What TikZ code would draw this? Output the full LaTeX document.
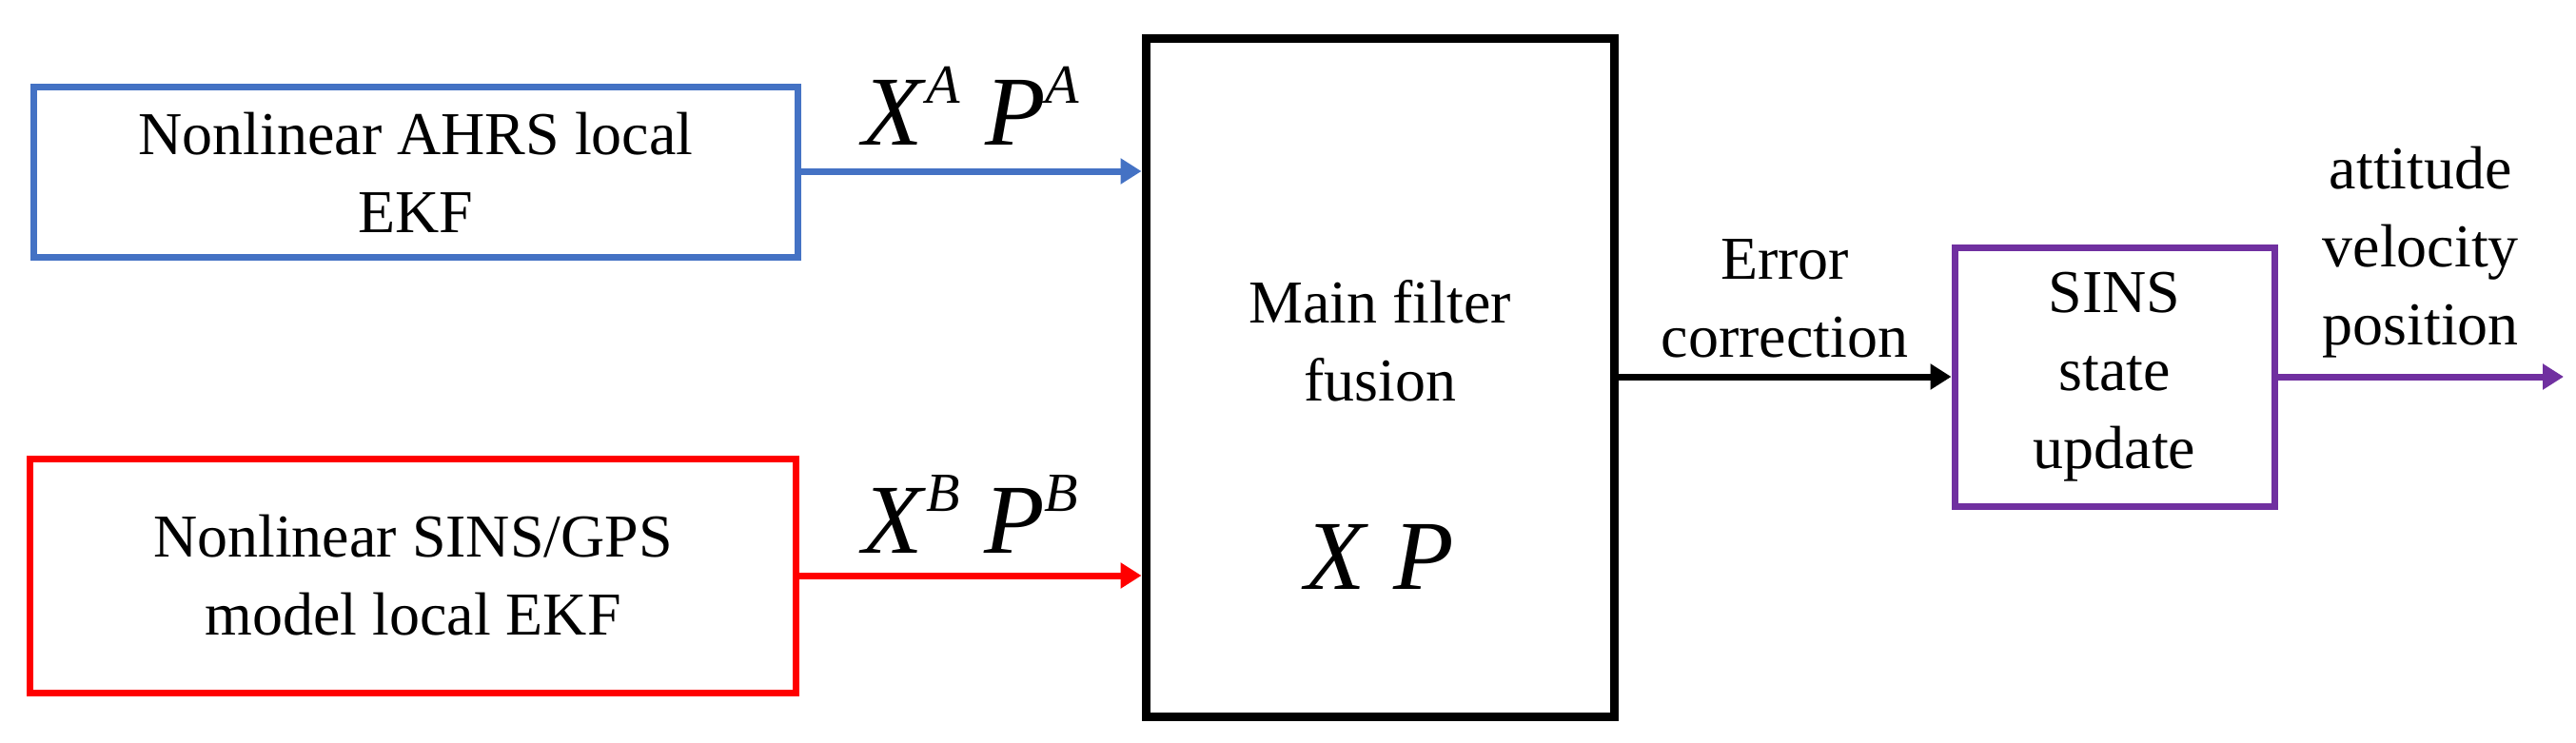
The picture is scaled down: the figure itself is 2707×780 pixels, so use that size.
\documentclass[tikz,border=0pt]{standalone}
\usepackage{fontspec}
\setmainfont{Liberation Serif}
\newfontfamily\blkfont{Liberation Serif}
\usetikzlibrary{positioning,arrows.meta}
\definecolor{ahrsblue}{RGB}{68,114,196}
\definecolor{sinsred}{RGB}{255,0,0}
\definecolor{statepurple}{RGB}{112,48,160}
\newcommand{\symb}[2]{\textit{#1}\raisebox{0.42em}{\fontsize{58}{58}\selectfont\textit{#2}}}
\tikzset{
  blk/.style={draw=#1, line width=7pt, inner sep=0pt, align=center, text=black,
    font=\blkfont\fontsize{64}{82}\selectfont},
  flow/.style={line width=7pt, -{Triangle[length=22pt,width=26pt]}},
  lbl/.style={font=\blkfont\fontsize{64}{82}\selectfont, align=center, inner sep=0pt, text=black},
  sym/.style={font=\blkfont\fontsize{104}{104}\selectfont, inner sep=0pt, text=black}
}
\begin{document}
\begin{tikzpicture}[x=1pt,y=-1pt]
    \useasboundingbox (0,0) rectangle (2707,780);
    \node [blk=ahrsblue, minimum width=803pt, minimum height=179pt] (ahrs) at (437,181) {Nonlinear AHRS local\\EKF};
    \node [blk=sinsred, minimum width=805pt, minimum height=246pt] (sins) at (434,605) {Nonlinear SINS/GPS\\model local EKF};
    \node [blk=black, line width=9pt, minimum width=492pt, minimum height=713pt] (main) at (1450,397) {};
    \node [blk=statepurple, minimum width=336pt, minimum height=272pt] (upd) at (2222,396) {SINS\\state\\update};

    \node [lbl] (fus) at (1450,358) {Main filter\\fusion};
    \node [sym] (xp) at (1450,585) {\textit{X}\ \textit{P}};

    \coordinate (inA) at (main.west |- 0,180);
    \coordinate (inB) at (main.west |- 0,605);
    \coordinate (out) at (2694,396);

    \draw [flow, ahrsblue] (ahrs.east |- inA) -- (inA)
      node [midway, above=24pt, sym] {\symb{X}{A}\ \symb{P}{A}};
    \draw [flow, sinsred] (sins.east |- inB) -- (inB)
      node [midway, above=20pt, sym] {\symb{X}{B}\ \symb{P}{B}};
    \draw [flow, black] (main.east |- upd.west) -- (upd.west)
      node [midway, above=16pt, lbl] {Error\\correction};
    \draw [flow, statepurple] (upd.east) -- (out)
      node [midway, above=16pt, lbl] {attitude\\velocity\\position};
\end{tikzpicture}
\end{document}
